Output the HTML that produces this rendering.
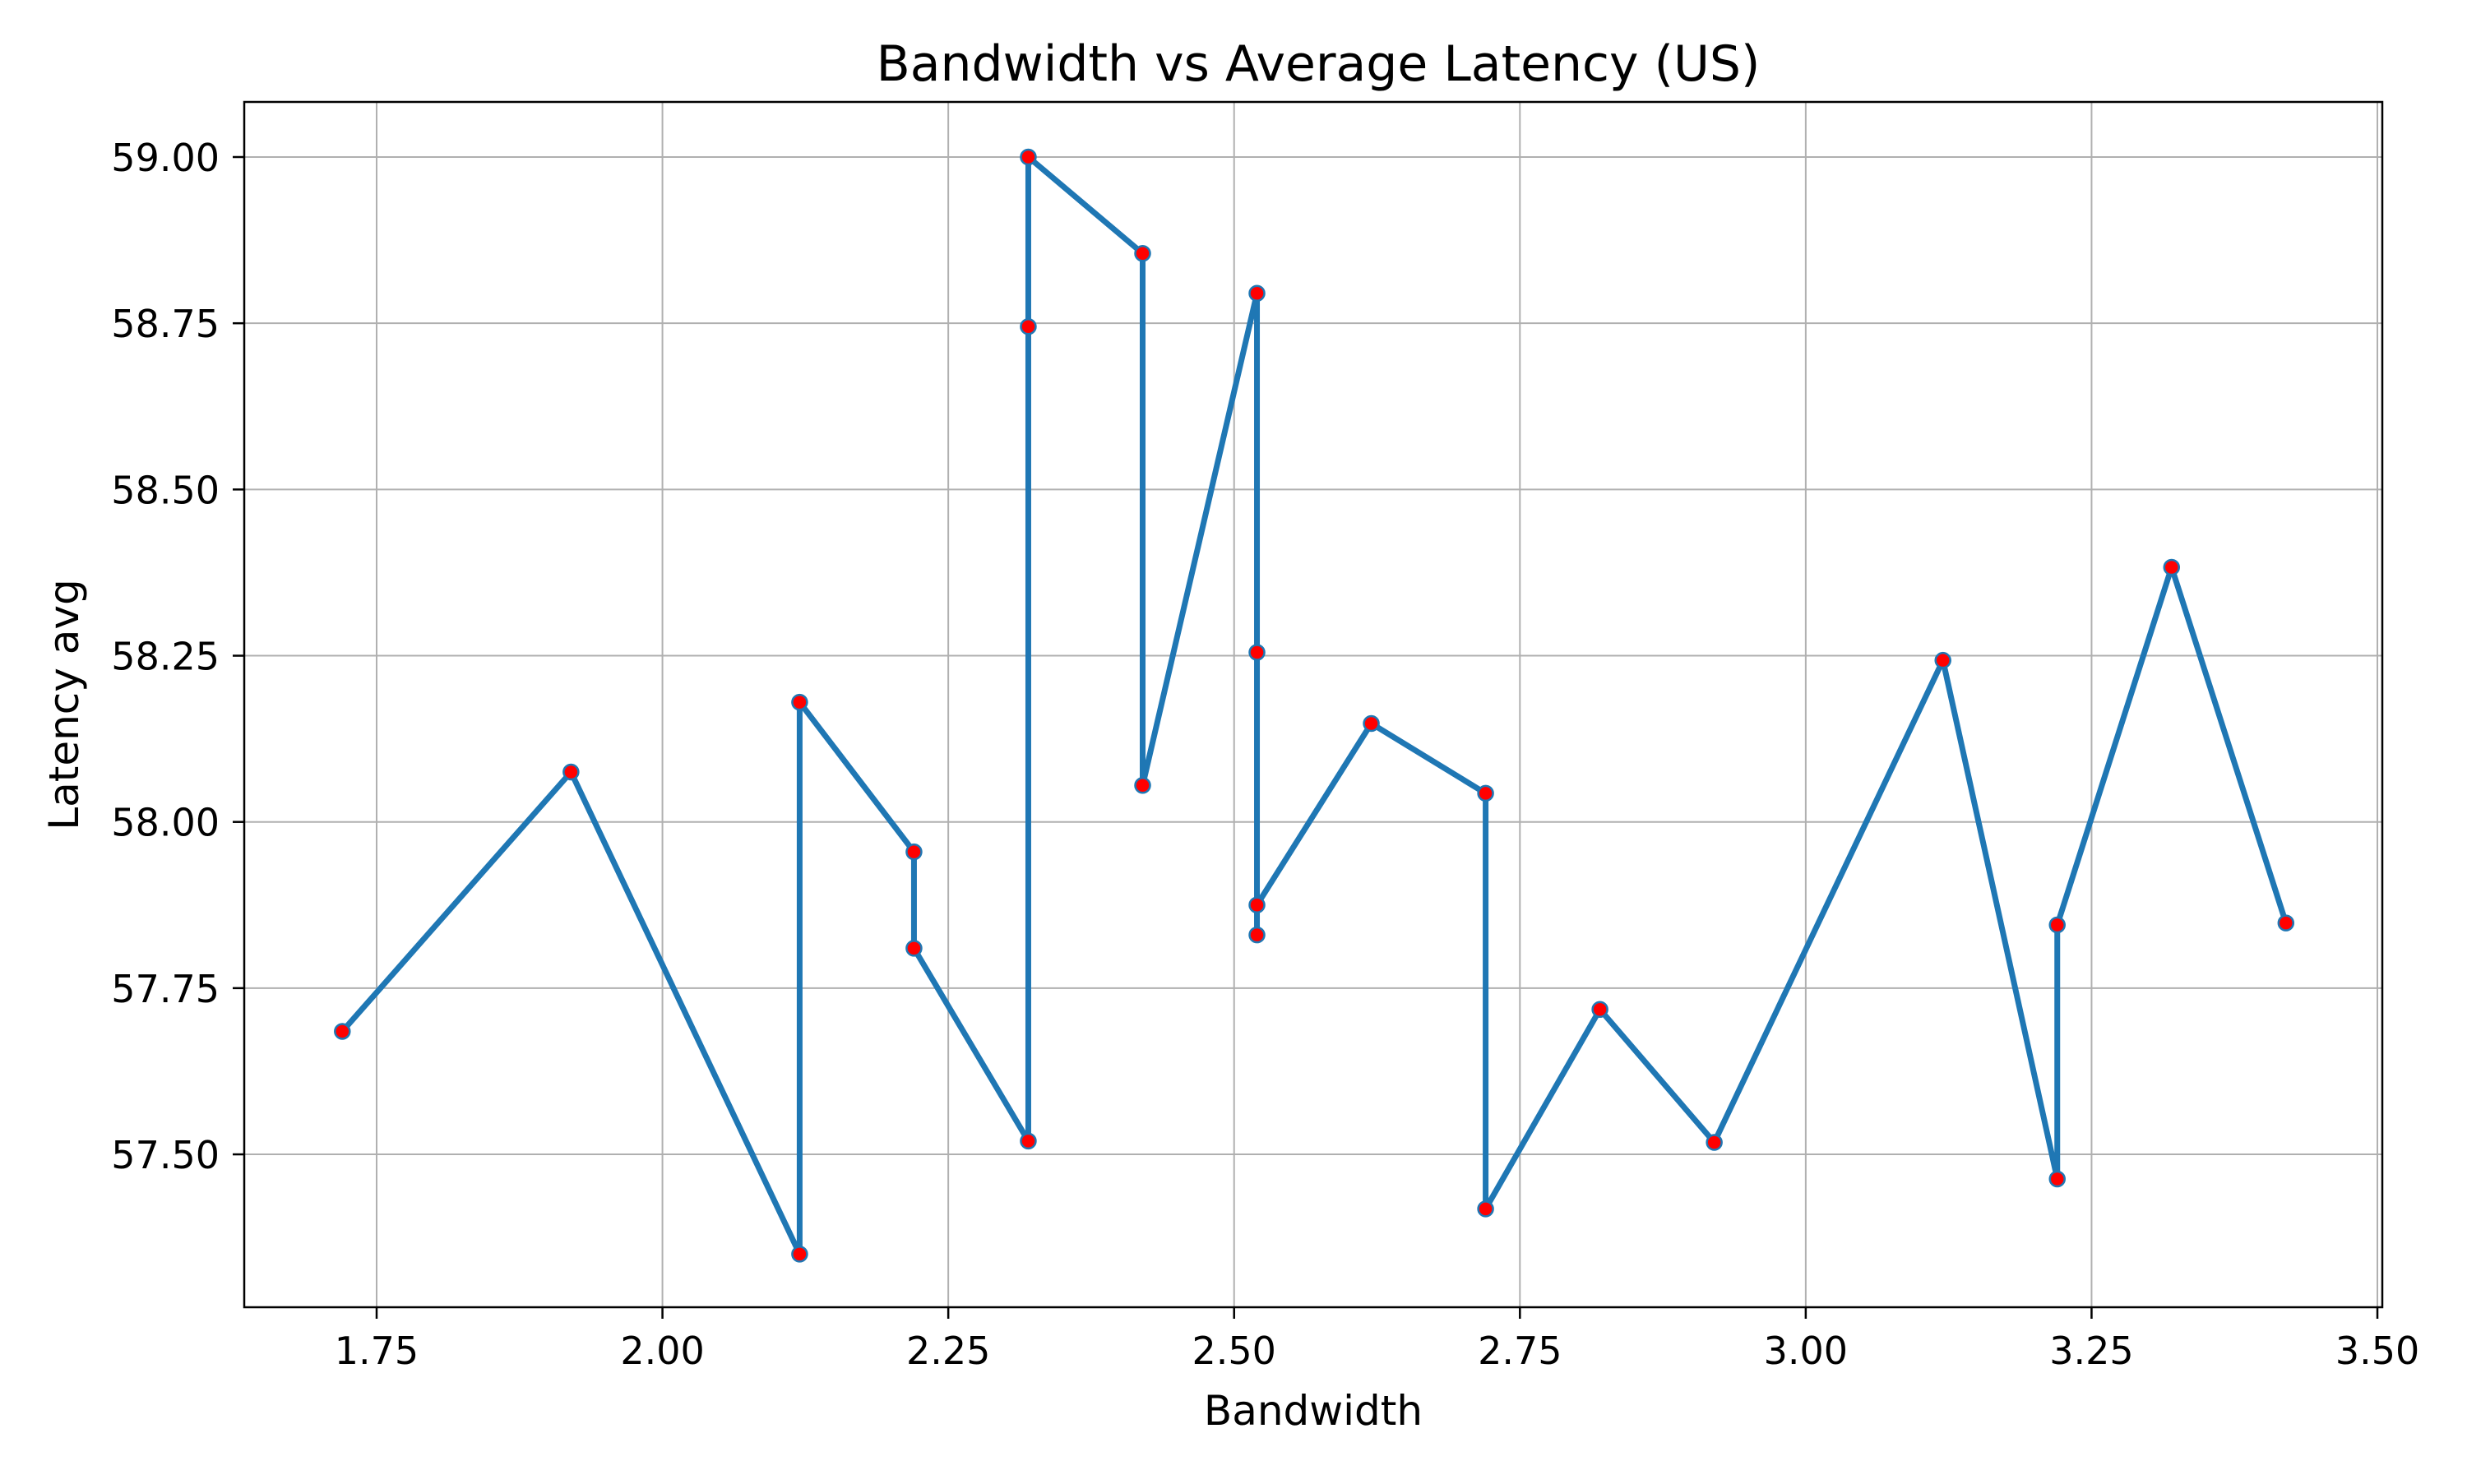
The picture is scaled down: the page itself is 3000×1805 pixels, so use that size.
<!DOCTYPE html>
<html><head><meta charset="utf-8"><style>
html,body{margin:0;padding:0;background:#fff}
svg text{font-family:"DejaVu Sans","Liberation Sans",sans-serif;fill:#000}
</style></head><body>
<svg id="chart" width="3000" height="1800" viewBox="0 0 3000 1800" xmlns="http://www.w3.org/2000/svg">
<rect width="3000" height="1800" fill="#fff"/>
<g id="grid"></g>
<g id="series"></g>
<rect x="297" y="124" width="2600" height="1466" fill="none" stroke="#000" stroke-width="2.5"/>
<g id="ticks"></g>
<text x="1603" y="98" font-size="60" text-anchor="middle">Bandwidth vs Average Latency (US)</text>
<text x="1597" y="1733" font-size="50" text-anchor="middle">Bandwidth</text>
<text x="95" y="857" font-size="50" text-anchor="middle" transform="rotate(-90 95 857)">Latency avg</text>
</svg>
<script>
const bandwidth = [1.72,1.92,2.12,2.12,2.22,2.22,2.32,2.32,2.32,2.42,2.42,2.52,2.52,2.52,2.52,2.62,2.72,2.72,2.82,2.92,3.12,3.22,3.22,3.32,3.42];
const latency = [57.685,58.075,57.35,58.18,57.955,57.81,57.52,58.745,59.00,58.855,58.055,58.795,58.255,57.83,57.875,58.148,58.043,57.418,57.718,57.518,58.243,57.463,57.845,58.383,57.848];
const xTicks = [1.75,2.00,2.25,2.50,2.75,3.00,3.25,3.50];
const yTicks = [57.50,57.75,58.00,58.25,58.50,58.75,59.00];
const L=297,R=2897,T=124,B=1590;
function xs(v){return 458+(v-1.75)*1390.3;}
function ys(v){return 191+(59-v)*808.7;}
const NS='http://www.w3.org/2000/svg';
const grid=document.getElementById('grid'),ticks=document.getElementById('ticks'),series=document.getElementById('series');
function mk(tag,attrs,parent){const e=document.createElementNS(NS,tag);for(const k in attrs)e.setAttribute(k,attrs[k]);parent.appendChild(e);return e;}
xTicks.forEach(t=>{const x=xs(t);
 const g=mk('line',{x1:x,x2:x,y1:T,y2:B,stroke:'#b0b0b0','stroke-width':2},grid);
 
 
 mk('line',{x1:x,x2:x,y1:B,y2:B+14,stroke:'#000','stroke-width':2.5},ticks);
 const tx=mk('text',{x:x,y:1659,'font-size':46,'text-anchor':'middle'},ticks);tx.textContent=t.toFixed(2);
 
 
});
yTicks.forEach(t=>{const y=ys(t);
 const g=mk('line',{x1:L,x2:R,y1:y,y2:y,stroke:'#b0b0b0','stroke-width':2},grid);
 
 
 mk('line',{x1:L-14,x2:L,y1:y,y2:y,stroke:'#000','stroke-width':2.5},ticks);
 const tx=mk('text',{x:L-30,y:y+17,'font-size':46,'text-anchor':'end'},ticks);tx.textContent=t.toFixed(2);
 
 
});
const pts=bandwidth.map((b,i)=>xs(b)+','+ys(latency[i])).join(' ');
const pl=mk('polyline',{points:pts,fill:'none',stroke:'#1f77b4','stroke-width':7,'stroke-linejoin':'round'},series);


bandwidth.forEach((b,i)=>{
 const c=mk('circle',{cx:xs(b),cy:ys(latency[i]),r:9,fill:'#ff0000',stroke:'#1f77b4','stroke-width':2.5},series);
 
 
});
</script>
</body></html>
